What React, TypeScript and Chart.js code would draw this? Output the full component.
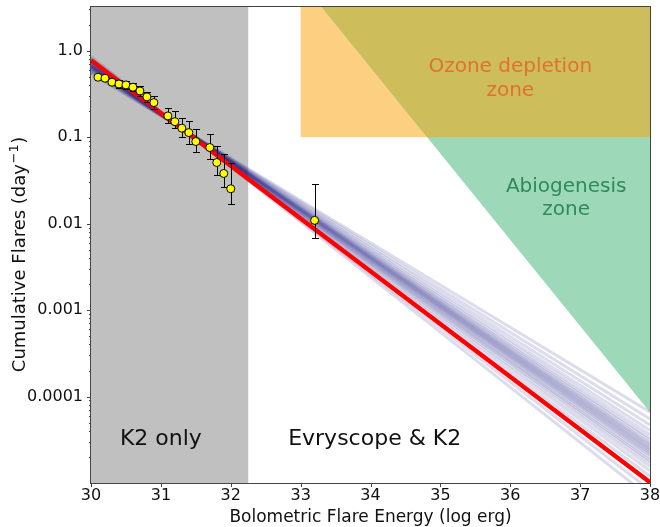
import { useEffect, useRef } from 'react';
import { Chart, registerables } from 'chart.js';

Chart.register(...registerables);

const FONT = '"DejaVu Sans", "Liberation Sans", sans-serif';

// ---- axes ----
const xMin = 30;
const xMax = 38;
const yMin = 1e-5;
const yMax = 3.2;
const xTickValues = [30, 31, 32, 33, 34, 35, 36, 37, 38];
const xTickLabels = ['30', '31', '32', '33', '34', '35', '36', '37', '38'];
const yTickValues = [1e-4, 1e-3, 1e-2, 1e-1, 1];
const yTickLabels = ['0.0001', '0.001', '0.01', '0.1', '1.0'];
const xTitle = 'Bolometric Flare Energy (log erg)';
const yTitleMain = 'Cumulative Flares (day';
const yTitleSup = '\u22121';
const yTitleEnd = ')';

// ---- observed cumulative flare rates ----
const flareEnergy = [30.1, 30.2, 30.3, 30.4, 30.5, 30.6, 30.7, 30.8, 30.9, 31.1, 31.2, 31.3, 31.4, 31.5, 31.7, 31.8, 31.9, 32.0, 33.2];
const flareRate = [0.493, 0.48, 0.432, 0.412, 0.402, 0.378, 0.342, 0.292, 0.251, 0.176, 0.151, 0.127, 0.113, 0.089, 0.0758, 0.0509, 0.038, 0.0253, 0.0109];
const rateUpper = [0.51, 0.5, 0.462, 0.452, 0.448, 0.421, 0.391, 0.334, 0.302, 0.22, 0.198, 0.166, 0.154, 0.124, 0.109, 0.08, 0.064, 0.05, 0.0286];
const rateLower = [0.475, 0.46, 0.404, 0.375, 0.361, 0.34, 0.299, 0.255, 0.211, 0.145, 0.127, 0.1016, 0.083, 0.068, 0.056, 0.0367, 0.0265, 0.017, 0.00675];

// ---- best fit ----
const fitEnergy = [30, 38];
const fitRate = [0.775, 1.02e-5];

// ---- posterior sample fits (rate at E=30 and at E=38) ----
const sampleEnergy = [30, 38];
const sampleRateAt30 = [0.545, 0.565, 0.583, 0.599, 0.612, 0.623, 0.631, 0.64, 0.646, 0.652, 0.658, 0.664, 0.669, 0.675, 0.681, 0.691, 0.7, 0.71, 0.722, 0.739, 0.759, 0.783, 0.815, 0.852];
const sampleRateAt38 = [6.61e-5, 5.5e-5, 4.68e-5, 4.07e-5, 3.63e-5, 3.31e-5, 3.09e-5, 2.88e-5, 2.75e-5, 2.63e-5, 2.51e-5, 2.4e-5, 2.29e-5, 2.19e-5, 2.09e-5, 1.95e-5, 1.82e-5, 1.7e-5, 1.55e-5, 1.38e-5, 1.2e-5, 1.02e-5, 8.3e-6, 6.8e-6];

// ---- regions ----
const k2OnlyRange = [30, 32.25];
const ozoneRange = [33, 38];
const ozoneFloor = 0.1;
const abioEdgeEnergy = [33.3, 38];
const abioEdgeRate = [3.2, 6.6e-5];

// ---- labels ----
const ozoneLabel = ['Ozone depletion', 'zone'];
const abioLabel = ['Abiogenesis', 'zone'];
const k2Label = 'K2 only';
const evryLabel = 'Evryscope & K2';

const regionsPlugin = {
  id: 'regions',
  beforeDatasetsDraw(chart: any) {
    const { ctx, chartArea: a, scales } = chart;
    const px = (v: number) => scales.x.getPixelForValue(v);
    const py = (v: number) => scales.y.getPixelForValue(v);
    ctx.save();
    ctx.beginPath();
    ctx.rect(a.left, a.top, a.right - a.left, a.bottom - a.top);
    ctx.clip();

    ctx.fillStyle = '#c0c0c0';
    ctx.fillRect(px(k2OnlyRange[0]), a.top, px(k2OnlyRange[1]) - px(k2OnlyRange[0]), a.bottom - a.top);

    ctx.fillStyle = '#fdd081';
    ctx.fillRect(px(ozoneRange[0]), a.top, px(ozoneRange[1]) - px(ozoneRange[0]), py(ozoneFloor) - a.top);

    const tri = () => {
      ctx.beginPath();
      ctx.moveTo(px(abioEdgeEnergy[0]), py(abioEdgeRate[0]));
      ctx.lineTo(px(xMax), py(abioEdgeRate[0]));
      ctx.lineTo(px(abioEdgeEnergy[1]), py(abioEdgeRate[1]));
      ctx.closePath();
    };
    ctx.fillStyle = '#9dd9b9';
    tri();
    ctx.fill();
    ctx.save();
    ctx.beginPath();
    ctx.rect(a.left, a.top, a.right - a.left, py(ozoneFloor) - a.top);
    ctx.clip();
    ctx.fillStyle = '#cdbd5b';
    tri();
    ctx.fill();
    ctx.restore();

    ctx.textAlign = 'center';
    ctx.textBaseline = 'alphabetic';
    ctx.font = `20px ${FONT}`;
    ctx.fillStyle = '#e0722f';
    ctx.fillText(ozoneLabel[0], px(36.0), py(0.56));
    ctx.fillText(ozoneLabel[1], px(36.0), py(0.296));
    ctx.fillStyle = '#2e8a59';
    ctx.fillText(abioLabel[0], px(36.8), py(0.0232));
    ctx.fillText(abioLabel[1], px(36.8), py(0.01267));
    ctx.font = `22px ${FONT}`;
    ctx.fillStyle = '#111';
    ctx.fillText(k2Label, px(31.0), py(2.75e-5));
    ctx.fillText(evryLabel, px(34.06), py(2.75e-5));
    ctx.restore();
  },
};

const errorBarPlugin = {
  id: 'errorBars',
  beforeDatasetDraw(chart: any, args: any) {
    if (args.index !== 0) return;
    const { ctx, scales } = chart;
    ctx.save();
    ctx.strokeStyle = '#000';
    ctx.lineWidth = 1;
    ctx.beginPath();
    for (let i = 0; i < flareEnergy.length; i++) {
      const x = Math.round(scales.x.getPixelForValue(flareEnergy[i])) + 0.5;
      const yTop = Math.round(scales.y.getPixelForValue(rateUpper[i])) + 0.5;
      const yBot = Math.round(scales.y.getPixelForValue(rateLower[i])) + 0.5;
      ctx.moveTo(x, yTop);
      ctx.lineTo(x, yBot);
      ctx.moveTo(x - 3.5, yTop);
      ctx.lineTo(x + 3.5, yTop);
      ctx.moveTo(x - 3.5, yBot);
      ctx.lineTo(x + 3.5, yBot);
    }
    ctx.stroke();
    ctx.restore();
  },
};

const axesPlugin = {
  id: 'axesFrame',
  afterDraw(chart: any) {
    const { ctx, chartArea: a, scales } = chart;
    ctx.save();
    ctx.strokeStyle = '#444';
    ctx.lineWidth = 1;
    ctx.strokeRect(a.left - 0.5, a.top - 0.5, a.right - a.left + 1, a.bottom - a.top + 1);
    ctx.beginPath();
    for (const v of xTickValues) {
      const p = Math.round(scales.x.getPixelForValue(v)) + 0.5;
      ctx.moveTo(p, a.bottom);
      ctx.lineTo(p, a.bottom + 4);
    }
    for (const v of yTickValues) {
      const p = Math.round(scales.y.getPixelForValue(v)) + 0.5;
      ctx.moveTo(a.left - 4, p);
      ctx.lineTo(a.left, p);
    }
    for (let d = -5; d <= 0; d++) {
      for (let m = 2; m <= 9; m++) {
        const v = m * Math.pow(10, d);
        if (v <= yMin || v >= yMax) continue;
        const p = Math.round(scales.y.getPixelForValue(v)) + 0.5;
        ctx.moveTo(a.left - 2, p);
        ctx.lineTo(a.left, p);
      }
    }
    ctx.stroke();

    // axis titles
    ctx.fillStyle = '#111';
    ctx.font = `17px ${FONT}`;
    ctx.textAlign = 'center';
    ctx.textBaseline = 'alphabetic';
    ctx.fillText(xTitle, (a.left + a.right) / 2, 521.5);

    ctx.save();
    ctx.translate(25, (a.top + a.bottom) / 2 + 10);
    ctx.rotate(-Math.PI / 2);
    ctx.textAlign = 'left';
    ctx.font = `18px ${FONT}`;
    const w1 = ctx.measureText(yTitleMain).width;
    const w3 = ctx.measureText(yTitleEnd).width;
    ctx.font = `13px ${FONT}`;
    const w2 = ctx.measureText(yTitleSup).width;
    const start = -(w1 + w2 + w3) / 2;
    ctx.font = `18px ${FONT}`;
    ctx.fillText(yTitleMain, start, 0);
    ctx.fillText(yTitleEnd, start + w1 + w2 + 1, 0);
    ctx.font = `13px ${FONT}`;
    ctx.fillText(yTitleSup, start + w1 + 0.5, -7);
    ctx.restore();
    ctx.restore();
  },
};

export default function App() {
  const ref = useRef<HTMLCanvasElement>(null);

  useEffect(() => {
    const canvas = ref.current;
    if (!canvas) return;

    const points = flareEnergy.map((e, i) => ({ x: e, y: flareRate[i] }));
    const fit = fitEnergy.map((e, i) => ({ x: e, y: fitRate[i] }));
    const samples = sampleRateAt30.map((r30, i) => ({
      data: [
        { x: sampleEnergy[0], y: r30 },
        { x: sampleEnergy[1], y: sampleRateAt38[i] },
      ],
      borderColor: 'rgba(45, 45, 140, 0.17)',
      borderWidth: 3,
      pointRadius: 0,
      showLine: true,
      clip: 0,
    }));

    const chart = new Chart(canvas, {
      type: 'line',
      data: {
        datasets: [
          {
            data: points,
            showLine: false,
            pointRadius: 4,
            pointBackgroundColor: '#ffff00',
            pointBorderColor: '#000',
            pointBorderWidth: 1,
          },
          {
            data: fit,
            borderColor: '#ff0000',
            borderWidth: 4.5,
            pointRadius: 0,
            clip: 0,
          },
          ...samples,
        ] as any,
      },
      options: {
        responsive: false,
        animation: false,
        layout: { padding: { top: 7, right: 10, left: 0, bottom: 0 } },
        plugins: { legend: { display: false }, tooltip: { enabled: false } },
        scales: {
          x: {
            type: 'linear',
            min: xMin,
            max: xMax,
            afterBuildTicks: (s: any) => {
              s.ticks = xTickValues.map((v) => ({ value: v }));
            },
            afterFit: (s: any) => {
              s.height = 44;
              s.paddingLeft = 0;
              s.paddingRight = 0;
            },
            grid: { display: false, drawTicks: true, tickLength: 3 },
            border: { display: false },
            ticks: {
              padding: 0,
              color: '#111',
              font: { family: FONT, size: 16 },
              maxRotation: 0,
              autoSkip: false,
              callback: (_v: any, i: number) => xTickLabels[i],
            },
          },
          y: {
            type: 'logarithmic',
            min: yMin,
            max: yMax,
            afterBuildTicks: (s: any) => {
              s.ticks = yTickValues.map((v) => ({ value: v }));
            },
            afterFit: (s: any) => {
              s.width = 91;
              s.paddingTop = 0;
              s.paddingBottom = 0;
            },
            grid: { display: false, drawTicks: true, tickLength: 4 },
            border: { display: false },
            ticks: {
              padding: 4,
              color: '#111',
              font: { family: FONT, size: 16 },
              autoSkip: false,
              callback: (_v: any, i: number) => yTickLabels[i],
            },
          },
        },
      } as any,
      plugins: [regionsPlugin, errorBarPlugin, axesPlugin],
    });

    return () => chart.destroy();
  }, []);

  return (
    <div style={{ position: 'fixed', left: 0, top: 0, width: 660, height: 527, background: '#fff' }}>
      <canvas ref={ref} width={660} height={527} style={{ width: 660, height: 527, display: 'block' }} />
    </div>
  );
}
